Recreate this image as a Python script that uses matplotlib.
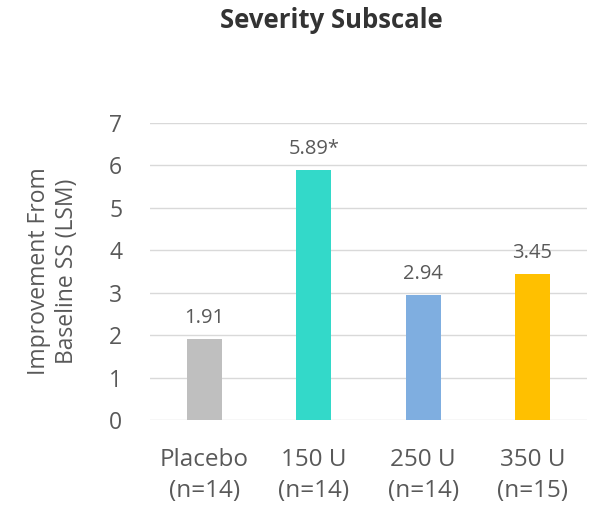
import matplotlib
matplotlib.use("Agg")
import matplotlib.pyplot as plt

# Data
groups = ["Placebo\n(n=14)", "150 U\n(n=14)", "250 U\n(n=14)", "350 U\n(n=15)"]
values = [1.91, 5.89, 2.94, 3.45]
value_labels = ["1.91", "5.89*", "2.94", "3.45"]
colors = ["#BFBFBF", "#33D9C9", "#7FAEE0", "#FFC000"]
yticks = [0, 1, 2, 3, 4, 5, 6, 7]

text_color = "#595959"
font = "Open Sans"

fig = plt.figure(figsize=(5.89, 5.09), dpi=100)
ax = fig.add_axes([150 / 589, 89 / 509, 437 / 589, 297 / 509])

x = list(range(len(groups)))
ax.bar(x, values, width=0.32, color=colors, zorder=3)

for xi, v, lab in zip(x, values, value_labels):
    ax.annotate(lab, (xi, v), xytext=(0, 8), textcoords="offset points",
                ha="center", va="bottom", fontsize=14.5, color=text_color,
                family=font)

ax.set_xlim(-0.5, 3.5)
ax.set_ylim(0, 7)
ax.set_yticks(yticks)
ax.set_yticklabels([str(t) for t in yticks], family=font, fontsize=16.5,
                   color=text_color)
ax.set_xticks(x)
ax.set_xticklabels(groups, family=font, fontsize=17.5, color=text_color,
                   linespacing=1.38)
ax.tick_params(axis="both", length=0)
ax.tick_params(axis="y", pad=20)
ax.tick_params(axis="x", pad=20)
ax.grid(axis="y", color="#D9D9D9", linewidth=1.0, zorder=0)
for s in ax.spines.values():
    s.set_visible(False)

ax.set_ylabel("Improvement From\nBaseline SS (LSM)", family=font, fontsize=16.5,
              color=text_color, linespacing=1.2, labelpad=22)

fig.text(0.5 + 37 / 589, 1 - 21 / 509, "Severity Subscale", ha="center",
         va="center", family=font, fontweight="bold", fontsize=18.5,
         color="#333333")

fig.savefig("out.png", dpi=100)
